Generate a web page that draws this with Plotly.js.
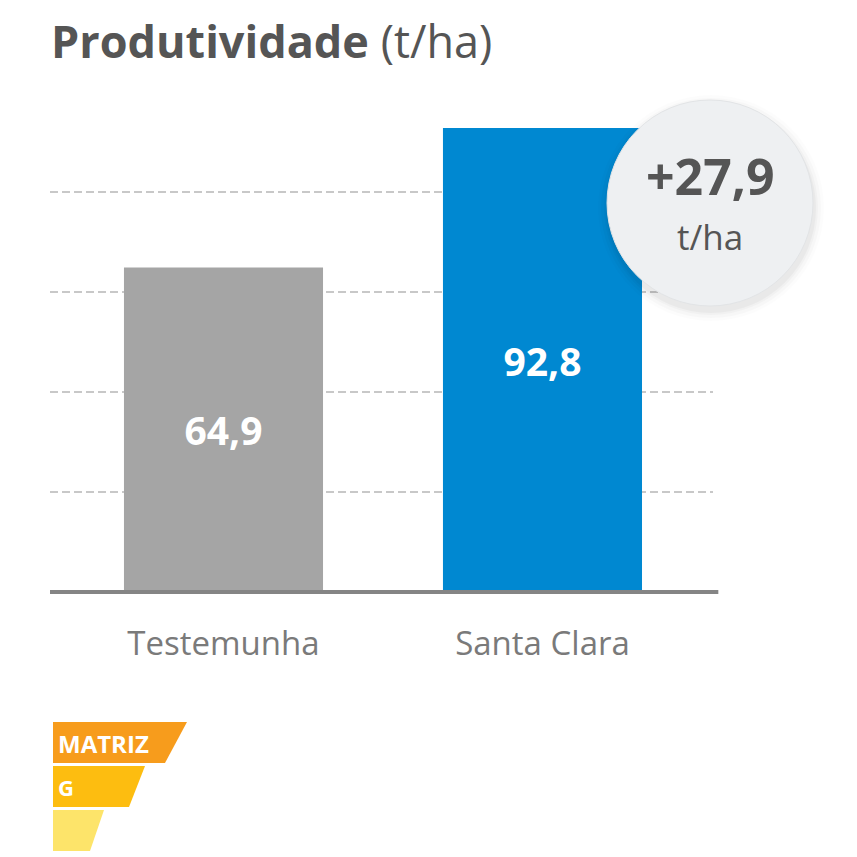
<!DOCTYPE html>
<html>
<head>
<meta charset="utf-8">
<script src="https://cdn.plot.ly/plotly-3.0.1.min.js"></script>
<style>html,body{margin:0;padding:0;background:#fff;}#chart{width:857px;height:857px;}</style>
</head>
<body>
<div id="chart"></div>
<script>
// ---- data ----
const categories = ["Testemunha", "Santa Clara"];
const values = [64.9, 92.8];
const barColors = ["#a5a5a5", "#0088d1"];
const gridTicks = [20, 40, 60, 80];
const unitLabel = "t/ha";
const titleMain = "Produtividade";
const logoWords = ["MATRIZ", "G"];

const FONT = "'Open Sans', sans-serif";

// ---- helpers (pixel -> paper, plot area 50..715 x 92..592) ----
const L = 50, R = 715, T = 92, B = 592;
const px = x => (x - L) / (R - L);
const py = y => (B - y) / (B - T);
function poly(pts) {
  return "M" + pts.map(p => px(p[0]).toFixed(5) + "," + py(p[1]).toFixed(5)).join(" L") + " Z";
}

const diff = (values[1] - values[0]).toFixed(1).replace(".", ",");

const trace = {
  type: "bar",
  x: categories,
  y: values,
  width: 0.624,
  marker: {color: barColors, line: {width: 0}},
  texttemplate: "<b>%{y:.1f}</b>",
  textposition: "inside",
  insidetextanchor: "middle",
  textangle: 0,
  textfont: {family: FONT, size: 39, color: "#ffffff"},
  hoverinfo: "skip",
  cliponaxis: false
};

const shapes = [];
// grid lines
gridTicks.forEach(v => shapes.push({
  type: "line", xref: "paper", yref: "y", x0: 0, x1: 0.997, y0: v, y1: v,
  line: {color: "#c8c8c8", width: 2, dash: "8px,4px"}, layer: "below"
}));
// baseline
shapes.push({type: "line", xref: "paper", yref: "paper", x0: 0, x1: 1.005, y0: 0, y1: 0,
  line: {color: "#858585", width: 4}, layer: "above"});
// badge shadow + circle
const cx = 710, cy = 203, r = 103;
[[10, 0.012], [7, 0.018], [4, 0.025], [2, 0.03]].forEach(([s, a]) => shapes.push({
  type: "circle", xref: "paper", yref: "paper",
  x0: px(cx - r - s + 1), x1: px(cx + r + s + 1), y0: py(cy + r + s + 5), y1: py(cy - r - s + 5),
  fillcolor: "rgba(0,0,0," + a + ")", line: {width: 0}, layer: "above"
}));
shapes.push({type: "circle", xref: "paper", yref: "paper",
  x0: px(cx - r), x1: px(cx + r), y0: py(cy + r), y1: py(cy - r),
  fillcolor: "#eef0f2", line: {color: "#e2e4e6", width: 1}, layer: "above"});
// logo bands
shapes.push({type: "path", xref: "paper", yref: "paper", path: poly([[53,722],[187,722],[165,763],[53,763]]),
  fillcolor: "#f79c1c", line: {width: 0}});
shapes.push({type: "path", xref: "paper", yref: "paper", path: poly([[53,766],[145,766],[129,807],[53,807]]),
  fillcolor: "#fdbd10", line: {width: 0}});
shapes.push({type: "path", xref: "paper", yref: "paper", path: poly([[53,810],[104,810],[90,851],[53,851]]),
  fillcolor: "#fde46a", line: {width: 0}});

const annotations = [
  {xref: "paper", yref: "paper", x: px(cx), y: py(176), xanchor: "center", yanchor: "middle",
   text: "<b>+" + diff + "</b>", showarrow: false,
   font: {family: FONT, size: 50, color: "#555555"}},
  {xref: "paper", yref: "paper", x: px(cx), y: py(236), xanchor: "center", yanchor: "middle",
   text: unitLabel, showarrow: false,
   font: {family: FONT, size: 35, color: "#555555"}},
  {xref: "paper", yref: "paper", x: px(56), y: py(743), xanchor: "left", yanchor: "middle",
   text: "<b>" + logoWords[0] + "</b>", showarrow: false,
   font: {family: FONT, size: 24, color: "#ffffff"}},
  {xref: "paper", yref: "paper", x: px(56), y: py(787), xanchor: "left", yanchor: "middle",
   text: "<b>" + logoWords[1] + "</b>", showarrow: false,
   font: {family: FONT, size: 22, color: "#ffffff"}}
];

const layout = {
  width: 857, height: 857,
  margin: {l: L, r: 857 - R, t: T, b: 857 - B, pad: 0},
  paper_bgcolor: "#ffffff", plot_bgcolor: "rgba(0,0,0,0)",
  separators: ",.",
  showlegend: false,
  title: {
    text: "<b>" + titleMain + "</b> (" + unitLabel + ")",
    xref: "container", yref: "container", x: 51 / 857, xanchor: "left",
    y: 1 - 42 / 857, yanchor: "middle",
    font: {family: FONT, size: 45, color: "#555555"}
  },
  xaxis: {
    type: "category", range: [-0.5439, 1.5408], showgrid: false, zeroline: false,
    showline: false, ticks: "", ticklabelstandoff: 29,
    tickfont: {family: FONT, size: 33, color: "#7a7a7a"}, fixedrange: true
  },
  yaxis: {
    range: [0, 100], showgrid: false, zeroline: false, showticklabels: false,
    showline: false, ticks: "", fixedrange: true
  },
  shapes: shapes,
  annotations: annotations
};

Plotly.newPlot("chart", [trace], layout, {displayModeBar: false, staticPlot: true});
</script>
</body>
</html>
